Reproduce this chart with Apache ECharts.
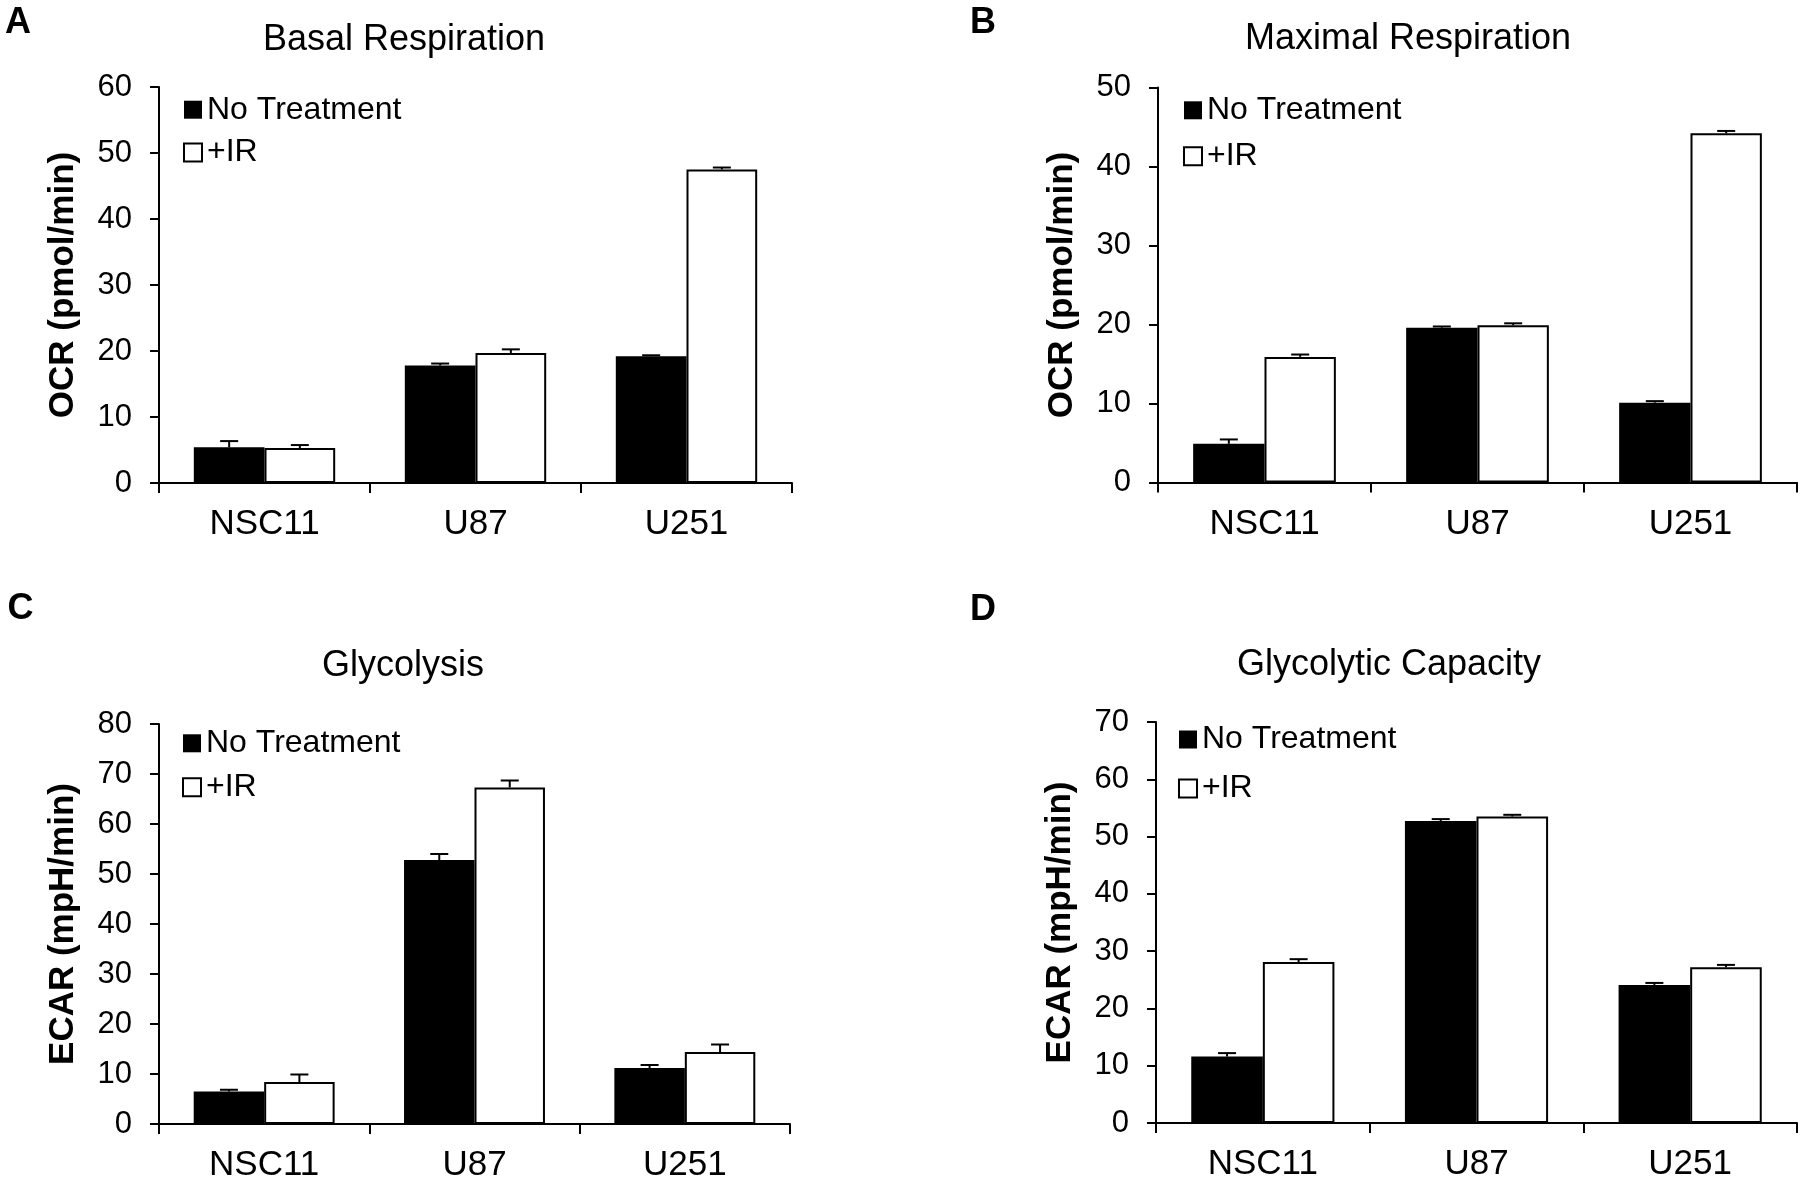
<!DOCTYPE html>
<html lang="en">
<head>
    <meta charset="UTF-8">
    <title>OCR and ECAR</title>
    <script src="https://cdn.jsdelivr.net/npm/echarts@6/dist/echarts.min.js"></script>
    <style>
        html, body { margin: 0; padding: 0; background: #fff; }
        #main { width: 1800px; height: 1183px; }
    </style>
</head>
<body>
<div id="main"></div>
<script>
    var categories = ['NSC11', 'U87', 'U251'];
    var seriesNames = ['No Treatment', '+IR'];

    // A - Basal Respiration
    var basalNoTx = [5.4, 17.8, 19.2];
    var basalNoTxErr = [0.95, 0.3, 0.15];
    var basalIR = [5.3, 19.7, 47.5];
    var basalIRErr = [0.45, 0.55, 0.3];

    // B - Maximal Respiration
    var maximalNoTx = [4.9, 19.6, 10.1];
    var maximalNoTxErr = [0.55, 0.15, 0.2];
    var maximalIR = [15.9, 19.9, 44.2];
    var maximalIRErr = [0.3, 0.25, 0.3];

    // C - Glycolysis
    var glycoNoTx = [6.5, 52.8, 11.2];
    var glycoNoTxErr = [0.35, 1.2, 0.6];
    var glycoIR = [8.4, 67.3, 14.4];
    var glycoIRErr = [1.5, 1.4, 1.5];

    // D - Glycolytic Capacity
    var capNoTx = [11.6, 52.7, 24.1];
    var capNoTxErr = [0.6, 0.35, 0.35];
    var capIR = [28.1, 53.5, 27.2];
    var capIRErr = [0.5, 0.3, 0.4];

    var panelLetters = ['A', 'B', 'C', 'D'];
    var panelTitles = ['Basal Respiration', 'Maximal Respiration', 'Glycolysis', 'Glycolytic Capacity'];
    var yNames = ['OCR (pmol/min)', 'OCR (pmol/min)', 'ECAR (mpH/min)', 'ECAR (mpH/min)'];
    var yMax = [60, 50, 80, 70];
    var yInterval = 10;

    var panelData = [
        [basalNoTx, basalNoTxErr, basalIR, basalIRErr],
        [maximalNoTx, maximalNoTxErr, maximalIR, maximalIRErr],
        [glycoNoTx, glycoNoTxErr, glycoIR, glycoIRErr],
        [capNoTx, capNoTxErr, capIR, capIRErr]
    ];

    // layout (pixels)
    var grids = [
        {left: 159, top: 87, width: 633, height: 396},
        {left: 1158, top: 87.5, width: 639, height: 395},
        {left: 159, top: 724, width: 631, height: 400},
        {left: 1156, top: 722, width: 641, height: 401}
    ];
    // [left, top, gap]
    var legendPos = [[183, 93.7, 10.8], [1183, 94.3, 14], [182, 727.3, 12], [1178, 723.5, 17]];
    var titlePos = [[404, 40.5], [1408, 39], [403, 666], [1389, 665]];
    var letterPos = [[5, 23.5], [970, 23.5], [7.5, 609], [970, 610]];

    var catGap = 0.33;
    var fontMain = 'Liberation Sans, Arial, sans-serif';

    function errorBar(side) {
        return function (params, api) {
            var i = api.value(0), v = api.value(1), e = api.value(2);
            var base = api.coord([i, v]);
            var top = api.coord([i, v + e]);
            var band = api.size([1, 0])[0];
            var x = base[0] + side * band * (1 - catGap) / 4;
            return {
                type: 'group',
                children: [
                    {type: 'line', shape: {x1: x, y1: base[1], x2: x, y2: top[1]}, style: {stroke: '#000', lineWidth: 2}},
                    {type: 'line', shape: {x1: x - 9, y1: top[1], x2: x + 9, y2: top[1]}, style: {stroke: '#000', lineWidth: 2}}
                ]
            };
        };
    }

    function withIndex(vals, errs) {
        return vals.map(function (v, i) { return [i, v, errs[i]]; });
    }

    var option = {
        backgroundColor: '#fff',
        animation: false,
        grid: [], xAxis: [], yAxis: [], legend: [], series: [], graphic: []
    };

    for (var p = 0; p < 4; p++) {
        var d = panelData[p];
        option.grid.push(grids[p]);
        option.xAxis.push({
            type: 'category', gridIndex: p, data: categories,
            axisLine: {lineStyle: {color: '#000', width: 2}},
            axisTick: {show: true, length: 10, lineStyle: {color: '#000', width: 2}},
            axisLabel: {color: '#000', fontFamily: fontMain, fontSize: 35, margin: 24}
        });
        option.yAxis.push({
            type: 'value', gridIndex: p, min: 0, max: yMax[p], interval: yInterval,
            name: yNames[p], nameLocation: 'middle', nameGap: 78,
            nameTextStyle: {color: '#000', fontFamily: fontMain, fontWeight: 'bold', fontSize: 35},
            axisLine: {show: true, lineStyle: {color: '#000', width: 2}},
            axisTick: {show: true, length: 9, lineStyle: {color: '#000', width: 2}},
            axisLabel: {color: '#000', fontFamily: fontMain, fontSize: 31, margin: 27},
            splitLine: {show: false}
        });
        option.legend.push({
            orient: 'vertical', left: legendPos[p][0], top: legendPos[p][1], padding: 0,
            itemWidth: 18, itemHeight: 18, itemGap: legendPos[p][2], selectedMode: false,
            textStyle: {color: '#000', fontFamily: fontMain, fontSize: 32, lineHeight: 32},
            data: [
                {name: seriesNames[0], icon: 'rect', itemStyle: {color: '#000', borderColor: '#000', borderWidth: 0}},
                {name: seriesNames[1], icon: 'rect', itemStyle: {color: '#fff', borderColor: '#000', borderWidth: 2}}
            ]
        });
        option.series.push({
            name: seriesNames[0], type: 'bar', xAxisIndex: p, yAxisIndex: p,
            data: d[0], barGap: '0%', barCategoryGap: (catGap * 100) + '%',
            itemStyle: {color: '#000', borderColor: '#000', borderWidth: 2}
        });
        option.series.push({
            name: seriesNames[1], type: 'bar', xAxisIndex: p, yAxisIndex: p,
            data: d[2], barGap: '0%', barCategoryGap: (catGap * 100) + '%',
            itemStyle: {color: '#fff', borderColor: '#000', borderWidth: 2}
        });
        option.series.push({
            type: 'custom', xAxisIndex: p, yAxisIndex: p, z: 3,
            renderItem: errorBar(-1), encode: {x: 0, y: 1},
            data: withIndex(d[0], d[1])
        });
        option.series.push({
            type: 'custom', xAxisIndex: p, yAxisIndex: p, z: 3,
            renderItem: errorBar(1), encode: {x: 0, y: 1},
            data: withIndex(d[2], d[3])
        });
        option.graphic.push({
            type: 'text', x: titlePos[p][0], y: titlePos[p][1],
            style: {text: panelTitles[p], fill: '#000', font: '36px "Liberation Sans"',
                align: 'center', verticalAlign: 'middle', textAlign: 'center', textVerticalAlign: 'middle'}
        });
        option.graphic.push({
            type: 'text', x: letterPos[p][0], y: letterPos[p][1],
            style: {text: panelLetters[p], fill: '#000', font: 'bold 36px "Liberation Sans"',
                align: 'left', verticalAlign: 'middle', textAlign: 'left', textVerticalAlign: 'middle'}
        });
    }

    var myChart = echarts.init(document.getElementById('main'));
    myChart.setOption(option);
</script>
</body>
</html>
